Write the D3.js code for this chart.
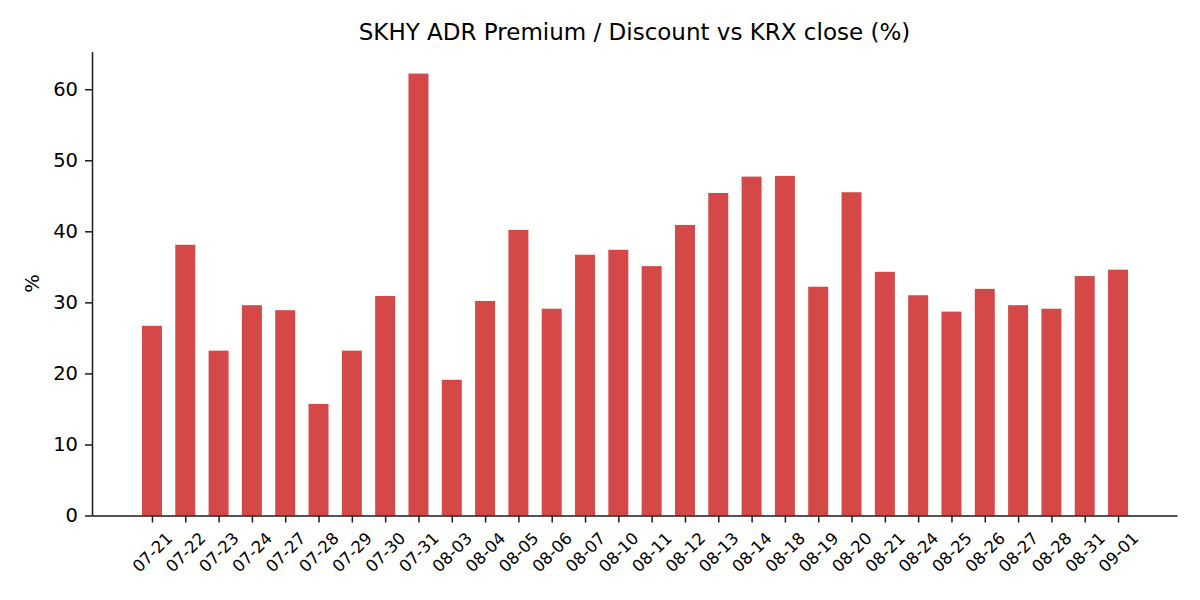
<!DOCTYPE html>
<html>
<head>
<meta charset="utf-8">
<script src="https://cdn.jsdelivr.net/npm/d3@7"></script>
<style>
  body { margin: 0; background: #fff; }
  svg { font-family: "DejaVu Sans", sans-serif; }
</style>
</head>
<body>
<svg id="chart" width="1200" height="600"></svg>
<script>
"use strict";

// Trading days (MM-DD)
const dates = [
    "07-21", "07-22", "07-23", "07-24", "07-27", "07-28", "07-29", "07-30", "07-31",
    "08-03", "08-04", "08-05", "08-06", "08-07", "08-10", "08-11", "08-12", "08-13",
    "08-14", "08-18", "08-19", "08-20", "08-21", "08-24", "08-25", "08-26", "08-27",
    "08-28", "08-31", "09-01"
];

// ADR premium over KRX close, in %
const premium = [
    26.7, 38.1, 23.2, 29.6, 28.9, 15.7, 23.2, 30.9, 62.2,
    19.1, 30.2, 40.2, 29.1, 36.7, 37.4, 35.1, 40.9, 45.4,
    47.7, 47.8, 32.2, 45.5, 34.3, 31.0, 28.7, 31.9, 29.6,
    29.1, 33.7, 34.6
];

const yTicks = [0, 10, 20, 30, 40, 50, 60];

const margin = { left: 92, right: 1177, top: 51.5, bottom: 515.5 };
const barColor = "#d44848";
const axisColor = "#1a1a1a";

const svg = d3.select("#chart");

const x = d3.scaleLinear()
    .domain([-1.8, dates.length - 1 + 1.77])
    .range([margin.left, margin.right]);

const y = d3.scaleLinear()
    .domain([0, d3.max(premium) * 1.05])
    .range([margin.bottom, margin.top]);

const barW = x(0.6) - x(0);

// Bars
svg.append("g")
    .selectAll("rect")
    .data(premium)
    .enter().append("rect")
        .attr("x", (d, i) => x(i) - barW / 2)
        .attr("y", d => y(d))
        .attr("width", barW)
        .attr("height", d => y(0) - y(d))
        .attr("fill", barColor);

// Y axis
const yAxis = svg.append("g")
    .attr("transform", `translate(${margin.left},0)`)
    .call(d3.axisLeft(y).tickValues(yTicks).tickSize(7).tickPadding(7).tickSizeOuter(0));
yAxis.select(".domain").attr("stroke", axisColor).attr("stroke-width", 1.5);
yAxis.selectAll(".tick line").attr("stroke", axisColor).attr("stroke-width", 1.5);
yAxis.selectAll(".tick text")
    .attr("font-size", "19.5px")
    .attr("fill", "#000")
    .attr("font-family", "DejaVu Sans");

// X axis
const xAxis = svg.append("g")
    .attr("transform", `translate(0,${margin.bottom})`)
    .call(d3.axisBottom(x)
        .tickValues(d3.range(dates.length))
        .tickFormat(i => dates[i])
        .tickSize(7)
        .tickSizeOuter(0));
xAxis.select(".domain").attr("stroke", axisColor).attr("stroke-width", 1.5);
xAxis.selectAll(".tick line").attr("stroke", axisColor).attr("stroke-width", 1.5);
xAxis.selectAll(".tick text")
    .attr("font-size", "16.5px")
    .attr("fill", "#000")
    .attr("font-family", "DejaVu Sans")
    .attr("text-anchor", "middle")
    .attr("dy", null)
    .attr("y", null)
    .attr("dominant-baseline", "central")
    .attr("transform", "translate(0,37) rotate(-45)");

// Y label
svg.append("text")
    .attr("transform", `translate(32,${(margin.top + margin.bottom) / 2}) rotate(-90)`)
    .attr("text-anchor", "middle")
    .attr("dominant-baseline", "central")
    .attr("font-size", "19.5px")
    .text("%");

// Title
svg.append("text")
    .attr("x", (margin.left + margin.right) / 2)
    .attr("y", 39.5)
    .attr("text-anchor", "middle")
    .attr("font-size", "23px")
    .text("SKHY ADR Premium / Discount vs KRX close (%)");
</script>
</body>
</html>
